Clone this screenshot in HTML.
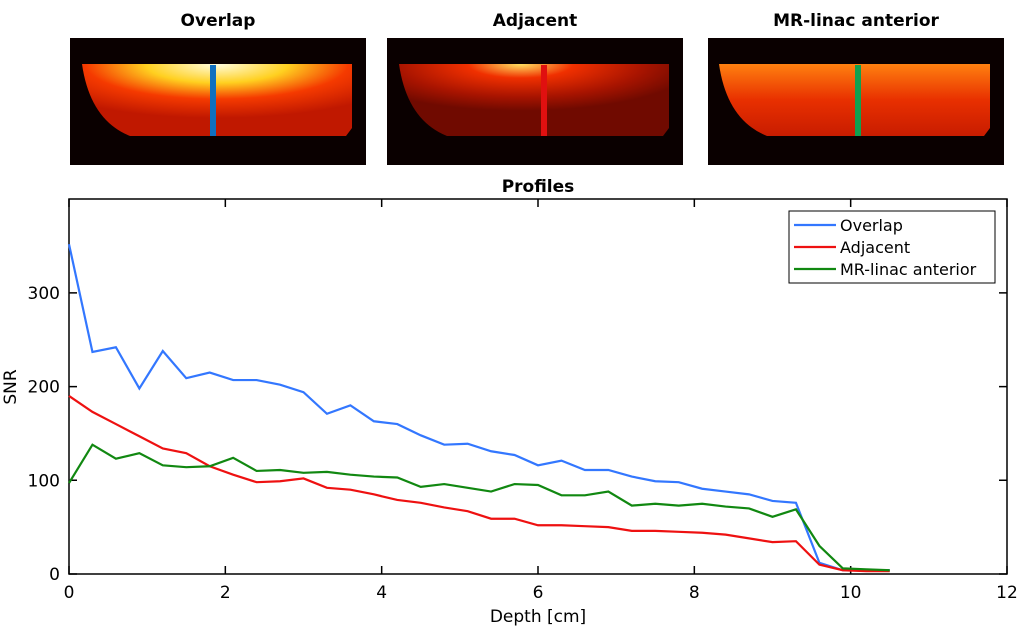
<!DOCTYPE html>
<html><head><meta charset="utf-8"><style>
body{margin:0;background:#fff;width:1020px;height:628px;overflow:hidden;font-family:"DejaVu Sans","Liberation Sans",sans-serif}
</style></head><body>
<svg width="1020" height="628" xmlns="http://www.w3.org/2000/svg">
<defs>
<radialGradient id="g1" cx="0.5" cy="0" r="0.75"><stop offset="0" stop-color="#fffde0"/><stop offset="0.35" stop-color="#ffd020"/><stop offset="0.65" stop-color="#f53a00"/><stop offset="1" stop-color="#c01800"/></radialGradient>
<radialGradient id="g2" cx="0.45" cy="0" r="0.65"><stop offset="0" stop-color="#ffe060"/><stop offset="0.3" stop-color="#f03000"/><stop offset="0.7" stop-color="#a81400"/><stop offset="1" stop-color="#700a00"/></radialGradient>
<linearGradient id="g3" x1="0" y1="0" x2="0" y2="1"><stop offset="0" stop-color="#ff8010"/><stop offset="0.5" stop-color="#e83000"/><stop offset="1" stop-color="#c81c00"/></linearGradient>
</defs>
<g font-weight="bold" font-size="17" text-anchor="middle">
<text x="218" y="26">Overlap</text>
<text x="535" y="26">Adjacent</text>
<text x="856" y="26">MR-linac anterior</text>
</g>
<g>
<rect x="70" y="38" width="296" height="127" fill="#0a0000"/>
<path d="M82 64 H352 V128 L346 136 H130 Q90 120 82 64Z" fill="url(#g1)"/>
<rect x="210" y="65" width="6" height="71" fill="#1070c0"/>
</g>
<g>
<rect x="387" y="38" width="296" height="127" fill="#0a0000"/>
<path d="M399 64 H669 V128 L663 136 H447 Q407 120 399 64Z" fill="url(#g2)"/>
<rect x="541" y="65" width="6" height="71" fill="#e01010"/>
</g>
<g>
<rect x="708" y="38" width="296" height="127" fill="#0a0000"/>
<path d="M719 64 H990 V128 L984 136 H767 Q727 120 719 64Z" fill="url(#g3)"/>
<rect x="855" y="65" width="6" height="71" fill="#10a050"/>
</g>
<text x="538" y="192" font-weight="bold" font-size="17" text-anchor="middle">Profiles</text>
<rect x="69" y="199" width="938" height="375" fill="none" stroke="#000" stroke-width="1.5"/>
<g id="ticks" font-size="17"></g>
<g id="lines" fill="none" stroke-width="2.2"></g>
<text x="538" y="622" font-size="17" text-anchor="middle">Depth [cm]</text>
<text x="16" y="387" font-size="17" text-anchor="middle" transform="rotate(-90 16 387)">SNR</text>
<g>
<rect x="789" y="211" width="206" height="72" fill="#fff" stroke="#000" stroke-width="1"/>
<g font-size="16">
<line x1="794" y1="225" x2="836" y2="225" stroke="#3377ff" stroke-width="2.2"/><text x="840" y="231">Overlap</text>
<line x1="794" y1="247" x2="836" y2="247" stroke="#ee1111" stroke-width="2.2"/><text x="840" y="253">Adjacent</text>
<line x1="794" y1="269" x2="836" y2="269" stroke="#118811" stroke-width="2.2"/><text x="840" y="275">MR-linac anterior</text>
</g></g>
</svg>
<script>
const depthStep = 0.3;
const overlap = [352,237,242,198,238,209,215,207,207,202,194,171,180,163,160,148,138,139,131,127,116,121,111,111,104,99,98,91,88,85,78,76,12,4,4,4];
const adjacent = [190,173,160,147,134,129,115,106,98,99,102,92,90,85,79,76,71,67,59,59,52,52,51,50,46,46,45,44,42,38,34,35,10,4,3,3];
const mrlinac = [97,138,123,129,116,114,115,124,110,111,108,109,106,104,103,93,96,92,88,96,95,84,84,88,73,75,73,75,72,70,61,69,30,6,5,4];
const xTicks = [0,2,4,6,8,10,12];
const yTicks = [0,100,200,300];
const NS="http://www.w3.org/2000/svg";
const X=v=>69+v*(938/12);
const Y=v=>574-v*0.937;
const tg=document.getElementById('ticks');
xTicks.forEach(t=>{
 const l=document.createElementNS(NS,'path');
 l.setAttribute('d',`M${X(t)} 574v-8M${X(t)} 199v8`);l.setAttribute('stroke','#000');l.setAttribute('stroke-width','1.5');
 
 
 tg.appendChild(l);
 const tx=document.createElementNS(NS,'text');
 tx.setAttribute('x',X(t));tx.setAttribute('y',598);tx.setAttribute('text-anchor','middle');tx.textContent=t;
 
 
 tg.appendChild(tx);
});
yTicks.forEach(t=>{
 const l=document.createElementNS(NS,'path');
 l.setAttribute('d',`M69 ${Y(t)}h8M1007 ${Y(t)}h-8`);l.setAttribute('stroke','#000');l.setAttribute('stroke-width','1.5');
 
 
 tg.appendChild(l);
 const tx=document.createElementNS(NS,'text');
 tx.setAttribute('x',60);tx.setAttribute('y',Y(t)+6);tx.setAttribute('text-anchor','end');tx.textContent=t;
 
 
 tg.appendChild(tx);
});
const lg=document.getElementById('lines');
[[overlap,'#3377ff','overlap-line'],[adjacent,'#ee1111','adjacent-line'],[mrlinac,'#118811','mr-linac-line']].forEach(([d,c,n])=>{
 const p=document.createElementNS(NS,'polyline');
 p.setAttribute('points',d.map((v,i)=>X(i*depthStep)+','+Y(v)).join(' '));
 p.setAttribute('stroke',c);
 
 
 lg.appendChild(p);
});
</script>
</body></html>
